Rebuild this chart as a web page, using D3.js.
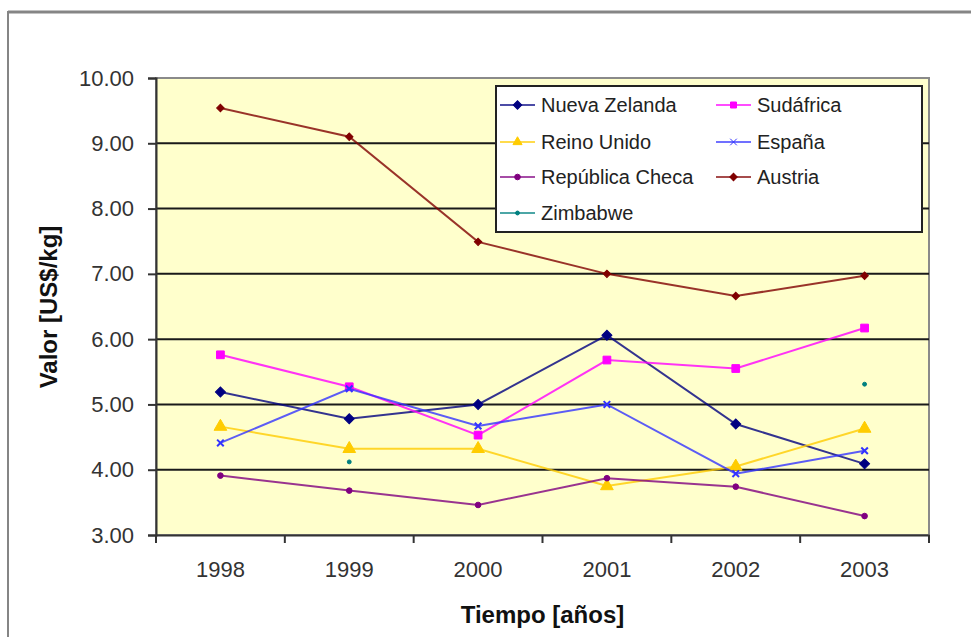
<!DOCTYPE html>
<html>
<head>
<meta charset="utf-8">
<script src="https://cdn.jsdelivr.net/npm/d3@7"></script>
<style>
  body { margin: 0; background: #fff; }
  svg { display: block; font-family: "Liberation Sans", Arial, sans-serif; }
</style>
</head>
<body>
<div id="chart"></div>
<script>
// datos
var years = ["1998", "1999", "2000", "2001", "2002", "2003"];
var yTicks = [3, 4, 5, 6, 7, 8, 9, 10];

var nuevaZelanda = [5.19, 4.78, 5.00, 6.06, 4.70, 4.09];
var sudafrica    = [5.76, 5.27, 4.53, 5.68, 5.55, 6.17];
var reinoUnido   = [4.66, 4.32, 4.32, 3.75, 4.05, 4.63];
var espana       = [4.41, 5.24, 4.67, 5.00, 3.94, 4.29];
var repCheca     = [3.91, 3.68, 3.46, 3.87, 3.74, 3.29];
var austria      = [9.54, 9.10, 7.49, 7.00, 6.66, 6.97];
var zimbabwe     = [null, 4.12, null, null, null, 5.31];

var series = [
  {name: "Nueva Zelanda",   values: nuevaZelanda, color: "#000080", marker: "diamond",  size: 50},
  {name: "Sudáfrica",       values: sudafrica,    color: "#ff00ff", marker: "square",   size: 60},
  {name: "Reino Unido",     values: reinoUnido,   color: "#ffcc00", marker: "triangle", size: 70},
  {name: "España",          values: espana,       color: "#3333ff", marker: "cross",    size: 30},
  {name: "República Checa", values: repCheca,     color: "#800080", marker: "circle",   size: 25},
  {name: "Austria",         values: austria,      color: "#800000", marker: "diamond",  size: 28},
  {name: "Zimbabwe",        values: zimbabwe,     color: "#008080", marker: "circle",   size: 12}
];

var width = 971, height = 637;
var pLeft = 156, pRight = 929, pTop = 78, pBottom = 535;

var svg = d3.select("#chart").append("svg")
  .attr("width", width).attr("height", height);

// borde exterior del grafico
svg.append("line").attr("x1", 8).attr("x2", width).attr("y1", 12).attr("y2", 12)
  .attr("stroke", "#858585").attr("stroke-width", 3);
svg.append("line").attr("x1", 8).attr("x2", 8).attr("y1", 11).attr("y2", height)
  .attr("stroke", "#858585").attr("stroke-width", 2);

var x = d3.scaleBand().domain(years).range([pLeft, pRight]);
var y = d3.scaleLinear().domain([3, 10]).range([pBottom, pTop]);

// area de trazado
svg.append("rect")
  .attr("x", pLeft).attr("y", pTop)
  .attr("width", pRight - pLeft).attr("height", pBottom - pTop)
  .attr("fill", "#ffffcc")
  .attr("stroke", "#8a8a8a").attr("stroke-width", 2);

// lineas de division
svg.append("g").selectAll("line")
  .data(yTicks.filter(function(d) { return d > 3 && d < 10; }))
  .enter().append("line")
  .attr("x1", pLeft).attr("x2", pRight)
  .attr("y1", function(d) { return y(d); })
  .attr("y2", function(d) { return y(d); })
  .attr("stroke", "#1a1a1a").attr("stroke-width", 2);

// eje Y
var yAxis = svg.append("g")
  .attr("transform", "translate(" + pLeft + ",0)")
  .call(d3.axisLeft(y).tickValues(yTicks).tickSize(8).tickPadding(14)
    .tickFormat(d3.format(".2f")));
yAxis.select(".domain").attr("stroke", "#333").attr("stroke-width", 2);
yAxis.selectAll(".tick line").attr("stroke", "#333").attr("stroke-width", 2);
yAxis.selectAll("text").attr("font-size", "22px").attr("fill", "#333")
  .attr("font-family", "Liberation Sans, Arial, sans-serif");

// eje X
var xAxis = svg.append("g")
  .attr("transform", "translate(0," + pBottom + ")")
  .call(d3.axisBottom(x).tickSize(0).tickPadding(26));
xAxis.select(".domain").attr("stroke", "#333").attr("stroke-width", 2);
xAxis.selectAll("text").attr("font-size", "22px").attr("fill", "#333")
  .attr("font-family", "Liberation Sans, Arial, sans-serif");

// marcas entre categorias
var bounds = years.map(function(d) { return x(d); }).concat([pRight]);
xAxis.selectAll("line.sep").data(bounds).enter().append("line")
  .attr("class", "sep")
  .attr("x1", function(d) { return d; }).attr("x2", function(d) { return d; })
  .attr("y1", 0).attr("y2", 8)
  .attr("stroke", "#333").attr("stroke-width", 2);

// titulos de ejes
svg.append("text")
  .attr("x", (pLeft + pRight) / 2).attr("y", 623)
  .attr("text-anchor", "middle")
  .attr("font-size", "24px").attr("font-weight", "bold").attr("fill", "#111")
  .text("Tiempo [años]");

svg.append("text")
  .attr("transform", "translate(57,307) rotate(-90)")
  .attr("text-anchor", "middle")
  .attr("font-size", "24px").attr("font-weight", "bold").attr("fill", "#111")
  .text("Valor [US$/kg]");

// rombo estilo Excel = cuadrado girado 45 grados
var symbolType = {
  diamond: d3.symbolSquare,
  square: d3.symbolSquare,
  triangle: d3.symbolTriangle,
  cross: d3.symbolTimes,
  circle: d3.symbolCircle
};
var rot = function(s) { return s.marker == "diamond" ? " rotate(45)" : ""; };

var cx = function(i) { return x(years[i]) + x.bandwidth() / 2; };

var line = d3.line()
  .defined(function(d) { return d != null; })
  .x(function(d, i) { return cx(i); })
  .y(function(d) { return y(d); });

series.forEach(function(s) {
  var g = svg.append("g");
  g.append("path")
    .datum(s.values)
    .attr("fill", "none")
    .attr("stroke", s.color).attr("stroke-width", 2).attr("stroke-opacity", 0.8)
    .attr("d", line);

  g.selectAll("path.mk")
    .data(s.values.map(function(v, i) { return {v: v, i: i}; })
      .filter(function(d) { return d.v != null; }))
    .enter().append("path")
    .attr("class", "mk")
    .attr("transform", function(d) { return "translate(" + cx(d.i) + "," + y(d.v) + ")" + rot(s); })
    .attr("d", d3.symbol().type(symbolType[s.marker]).size(s.size))
    .attr("fill", s.color)
    .attr("stroke", s.color).attr("stroke-width", s.marker == "cross" ? 2 : 1);
});

// leyenda
var legend = svg.append("g");
legend.append("rect")
  .attr("x", 496).attr("y", 86).attr("width", 426).attr("height", 146)
  .attr("fill", "#fff").attr("stroke", "#222").attr("stroke-width", 2);

var legendPos = [
  [500, 105], [716, 105],
  [500, 142], [716, 142],
  [500, 177], [716, 177],
  [500, 213]
];

series.forEach(function(s, i) {
  var p = legendPos[i];
  var item = legend.append("g").attr("transform", "translate(" + p[0] + "," + p[1] + ")");
  item.append("line").attr("x1", 0).attr("x2", 35).attr("y1", 0).attr("y2", 0)
    .attr("stroke", s.color).attr("stroke-width", 2).attr("stroke-opacity", 0.7);
  item.append("path")
    .attr("transform", "translate(17.5,0)" + rot(s))
    .attr("d", d3.symbol().type(symbolType[s.marker]).size(Math.min(s.size, 36)))
    .attr("fill", s.color).attr("stroke", s.color);
  item.append("text")
    .attr("x", 41).attr("y", 0).attr("dy", "0.36em")
    .attr("font-size", "20px").attr("fill", "#222")
    .text(s.name);
});
</script>
</body>
</html>
